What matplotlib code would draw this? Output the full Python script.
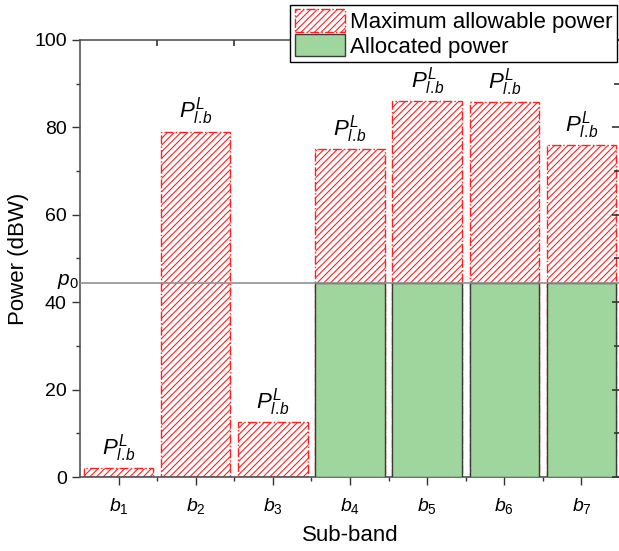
import matplotlib
matplotlib.use("Agg")
import matplotlib.pyplot as plt
import numpy as np
from matplotlib.patches import Patch

# data
bands = [r'$b_1$', r'$b_2$', r'$b_3$', r'$b_4$', r'$b_5$', r'$b_6$', r'$b_7$']
max_power = [2, 79, 12.5, 75, 86, 85.8, 76]      # maximum allowable power (dBW)
alloc_power = [0, 0, 0, 44.5, 44.5, 44.5, 44.5]  # allocated power (dBW)
p0 = 44.5

plt.rcParams['font.family'] = ['Liberation Sans', 'DejaVu Sans']
plt.rcParams['mathtext.fontset'] = 'custom'
plt.rcParams['mathtext.rm'] = 'Liberation Sans'
plt.rcParams['mathtext.it'] = 'Liberation Sans:italic'
plt.rcParams['hatch.linewidth'] = 0.8

fig = plt.figure(figsize=(6.19, 5.51), dpi=100)
ax = fig.add_axes([80/619, 74/551, 540/619, 437/551])

x = np.arange(1, len(bands) + 1)
ax.bar(x, max_power, width=0.9, color='white', edgecolor='#ff2020',
       hatch='/////', linestyle='-.', linewidth=1.0, zorder=2)
ax.bar(x, alloc_power, width=0.9, color='#9ed69e', edgecolor='#3a3a3a',
       linewidth=1.0, zorder=3)

# labels above the bars
for xi, h in zip(x, max_power):
    ax.text(xi, h + 1.0, r'$P_{l.\!b}^{L}$', ha='center', va='bottom', fontsize=16)

ax.axhline(p0, color='#909090', linewidth=1.2, zorder=4)
ax.annotate(r'$p_0$', xy=(0, p0), xycoords=('axes fraction', 'data'),
            xytext=(-1, -2), textcoords='offset points', ha='right', va='baseline',
            fontsize=15, annotation_clip=False)

ax.set_xlim(0.5, 7.5)
ax.set_ylim(0, 100)
ax.set_xticks(x)
ax.set_xticklabels(bands, fontsize=14)
ax.set_xticks(np.arange(1.5, 7.5, 1), minor=True)
ax.set_yticks(np.arange(0, 101, 20))
ax.set_yticks(np.arange(10, 100, 20), minor=True)
ax.tick_params(axis='both', which='major', direction='out', length=6, width=1,
               labelsize=14, colors='#333333', labelcolor='black')
ax.tick_params(axis='both', which='minor', direction='out', length=3, width=1,
               colors='#333333')
ax.tick_params(axis='x', which='major', pad=8)
for s in ax.spines.values():
    s.set_color('#555555')
    s.set_linewidth(1.2)

# inward ticks on top (between bars) and on the right
ax_top = ax.twiny()
ax_top.set_xlim(ax.get_xlim())
ax_top.set_xticks(np.arange(1.5, 7.5, 1))
ax_top.tick_params(axis='x', which='major', top=True, bottom=False, direction='in',
                   length=4, width=1.2, colors='#333333', labeltop=False)
ax_right = ax.twinx()
ax_right.set_ylim(ax.get_ylim())
ax_right.set_yticks(np.arange(0, 101, 20))
ax_right.set_yticks(np.arange(10, 100, 20), minor=True)
ax_right.tick_params(axis='y', which='major', direction='in', length=6, width=1.2,
                     colors='#333333', labelright=False)
ax_right.tick_params(axis='y', which='minor', direction='in', length=4, width=1.2,
                     colors='#333333')
for a in (ax_top, ax_right):
    for s in a.spines.values():
        s.set_visible(False)

ax.set_xlabel('Sub-band', fontsize=16, labelpad=6)
ax.set_ylabel('Power (dBW)', fontsize=16, labelpad=4)

handles = [Patch(facecolor='white', edgecolor='#ff2020', hatch='/////', linestyle='-.',
                 linewidth=1.0),
           Patch(facecolor='#9ed69e', edgecolor='#3a3a3a', linewidth=1.0)]
leg = fig.legend(handles, ['Maximum allowable power', 'Allocated power'],
                 loc='upper right', bbox_to_anchor=(617/619, 1 - 5/551),
                 fontsize=16, frameon=True,
                 fancybox=False, edgecolor='black', framealpha=1,
                 handlelength=2.25, handleheight=1.15, labelspacing=0.05,
                 handletextpad=0.25, borderpad=0.2, borderaxespad=0)
leg.get_frame().set_linewidth(1.0)
leg.set_zorder(10)

fig.savefig('out.png', dpi=100)
